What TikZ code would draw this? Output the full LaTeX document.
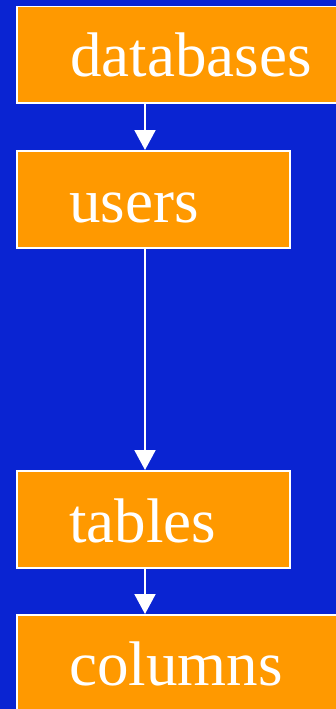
\documentclass[tikz,border=0pt]{standalone}
\usepackage{fontspec}
\setmainfont{Liberation Serif}
\usetikzlibrary{arrows.meta}
\definecolor{bgblue}{RGB}{10,36,210}
\definecolor{boxorange}{RGB}{255,153,0}
\tikzset{
  stagebox/.style={draw=white, line width=1.5pt, fill=boxorange, inner sep=0pt, anchor=north west},
  stagetext/.style={text=white, anchor=base west, inner sep=0pt, font=\fontsize{63}{63}\selectfont},
  flow/.style={draw=white, line width=2pt, -{Triangle[width=21pt,length=20pt]}}
}
\begin{document}
\begin{tikzpicture}[x=1pt,y=-1pt]
  \useasboundingbox (0,0) rectangle (336,709);
  \clip (0,0) rectangle (336,709);
  \fill[bgblue] (0,0) rectangle (336,709);

  % stage boxes
  \node[stagebox, minimum width=330pt, minimum height=96pt] (db) at (16,6) {};
  \node[stagebox, minimum width=273pt, minimum height=97pt] (us) at (16,150) {};
  \node[stagebox, minimum width=273pt, minimum height=97pt] (tb) at (16,470) {};
  \node[stagebox, minimum width=330pt, minimum height=110pt] (co) at (16,614) {};

  % labels
  \node[stagetext] (dbt) at (70,77) {databases};
  \node[stagetext] (ust) at (69,222) {users};
  \node[stagetext] (tbt) at (69,542) {tables};
  \node[stagetext] (cot) at (69,685) {columns};

  % connectors
  \coordinate (x) at (145,0);
  \draw[flow] (db.south -| x) -- (us.north -| x);
  \draw[flow] (us.south -| x) -- (tb.north -| x);
  \draw[flow] (tb.south -| x) -- (co.north -| x);
\end{tikzpicture}
\end{document}
